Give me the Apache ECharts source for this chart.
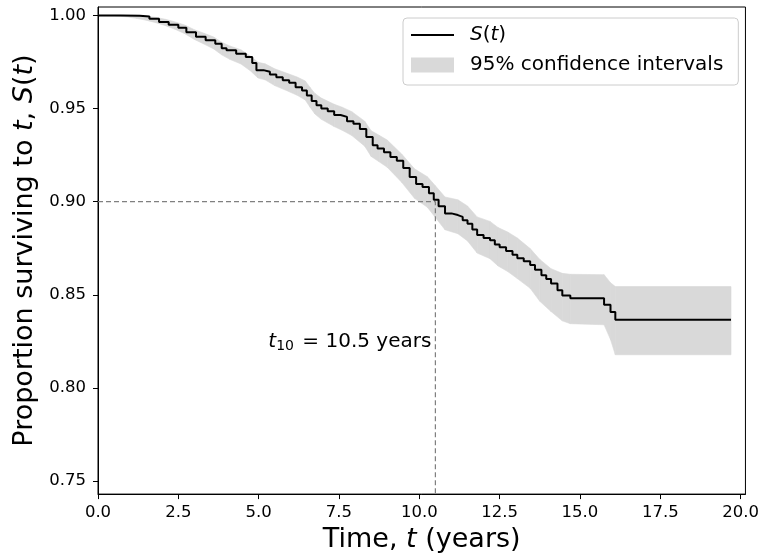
<!DOCTYPE html>
<html>
<head>
<meta charset="utf-8">
<style>
  html, body { margin: 0; padding: 0; background: #fff; }
  #chart { width: 762px; height: 558px; }
</style>
<script src="https://cdn.jsdelivr.net/npm/echarts@6/dist/echarts.min.js"></script>
</head>
<body>
<div id="chart"></div>
<script>
// Kaplan-Meier estimate
const times = [0, 0.7, 1.3, 1.6, 1.9, 2.2, 2.5, 2.75, 3.05, 3.35, 3.65, 3.85, 4.0, 4.3, 4.6, 4.8, 4.93, 5.15, 5.35, 5.55,
  5.75, 5.95, 6.15, 6.35, 6.5, 6.65, 6.8, 6.95, 7.15, 7.35, 7.55, 7.75, 7.95, 8.15, 8.35, 8.55, 8.7, 8.9, 9.1, 9.3,
  9.5, 9.7, 9.9, 10.1, 10.3, 10.45, 10.6, 10.8, 11.0, 11.2, 11.35, 11.5, 11.65, 11.8, 12.0, 12.2, 12.35, 12.5, 12.7, 12.9,
  13.05, 13.25, 13.45, 13.6, 13.8, 13.95, 14.1, 14.3, 14.45, 14.7, 15.75, 15.95, 16.1, 19.7]
const survival = [1.0, 0.9998, 0.9994, 0.9982, 0.9965, 0.995, 0.9933, 0.991, 0.9885, 0.9866, 0.9848, 0.9824, 0.9813, 0.9794, 0.9776, 0.9745, 0.9706, 0.9697, 0.9683, 0.9668,
  0.9652, 0.9638, 0.9614, 0.9597, 0.957, 0.954, 0.9518, 0.95, 0.9486, 0.9465, 0.9455, 0.9432, 0.9418, 0.939, 0.9347, 0.9303, 0.9285, 0.9265, 0.924, 0.922,
  0.918, 0.9132, 0.9095, 0.9078, 0.9045, 0.901, 0.8975, 0.8937, 0.8928, 0.8918, 0.89, 0.8882, 0.885, 0.8821, 0.8805, 0.8793, 0.877, 0.8755, 0.8735, 0.8715,
  0.8696, 0.868, 0.866, 0.8635, 0.8605, 0.8585, 0.856, 0.8525, 0.8496, 0.8482, 0.8446, 0.8407, 0.8366, 0.8366]

// 95% confidence band
const ciTimes = [0, 0.5, 0.9, 1.2, 1.5, 1.8, 2.1, 2.4, 2.7, 3.0, 3.3, 3.6, 3.85, 4.1, 4.45, 4.75, 4.98, 5.2, 5.5, 5.9,
  6.2, 6.45, 6.6, 6.75, 6.95, 7.35, 7.6, 7.9, 8.3, 8.5, 8.75, 9.0, 9.45, 9.85, 10.25, 10.5, 10.8, 11.2, 11.5, 11.8,
  12.2, 12.45, 12.75, 13.05, 13.45, 13.75, 14.1, 14.45, 14.7, 15.75, 15.95, 16.1, 19.7]
const ciLower = [1.0, 0.9997, 0.9992, 0.9984, 0.9974, 0.9961, 0.9945, 0.9925, 0.9902, 0.9871, 0.9846, 0.982, 0.9788, 0.9764, 0.9739, 0.9701, 0.9664, 0.9654, 0.9623, 0.9594,
  0.9571, 0.9546, 0.9507, 0.9471, 0.9442, 0.9403, 0.9383, 0.9355, 0.9298, 0.9243, 0.9214, 0.9185, 0.9104, 0.9018, 0.897, 0.8915, 0.8849, 0.8828, 0.8789, 0.8724,
  0.8694, 0.8655, 0.8625, 0.8587, 0.8535, 0.8465, 0.841, 0.836, 0.8345, 0.8339, 0.826, 0.8178, 0.8178]
const ciUpper = [1.0, 1.0, 1.0, 1.0, 0.9996, 0.9989, 0.9979, 0.9965, 0.9948, 0.9923, 0.9904, 0.9884, 0.9856, 0.9836, 0.9815, 0.9781, 0.9748, 0.974, 0.9713, 0.9688,
  0.9669, 0.9648, 0.9613, 0.9581, 0.9556, 0.9523, 0.9507, 0.9483, 0.9432, 0.9381, 0.9356, 0.9331, 0.9256, 0.9176, 0.9134, 0.9085, 0.9025, 0.901, 0.8977, 0.8918,
  0.8894, 0.8861, 0.8837, 0.8805, 0.8748, 0.869, 0.864, 0.8615, 0.861, 0.8608, 0.8565, 0.8544, 0.8544]

const xTicks = [0, 2.5, 5, 7.5, 10, 12.5, 15, 17.5, 20]
const yTicks = [0.75, 0.8, 0.85, 0.9, 0.95, 1.0]

// time at which 10% have died
const t10 = 10.5
const s10 = 0.9
const noteY = 0.825

const xMin = 0, xMax = 20.15
const yMin = 0.743, yMax = 1.0045

const FONT = 'DejaVu Sans'
const bandColor = '#d9d9d9'

const chart = echarts.init(document.getElementById('chart'))

const bandRows = ciTimes.map((t, i) => [t, ciLower[i], ciUpper[i]])

// one quad per interval between consecutive band points
function renderBand(params, api) {
  const i = params.dataIndex
  if (i >= bandRows.length - 1) return null
  const a = bandRows[i], b = bandRows[i + 1]
  const pts = [
    api.coord([a[0], a[2]]), api.coord([b[0], b[2]]),
    api.coord([b[0], b[1]]), api.coord([a[0], a[1]]),
  ]
  return {
    type: 'polygon',
    shape: { points: pts },
    style: { fill: bandColor, stroke: bandColor, lineWidth: 0.6 },
  }
}

chart.setOption({
  animation: false,
  textStyle: { fontFamily: FONT },
  grid: {
    left: 98, right: 15, top: 7, bottom: 63,
    show: true, borderColor: '#000', borderWidth: 1,
  },
  legend: {
    left: 403, top: 18,
    orient: 'vertical',
    padding: [6, 15, 9, 8],
    itemGap: 8,
    itemWidth: 43,
    itemHeight: 15,
    borderColor: '#cccccc',
    borderWidth: 1,
    borderRadius: 4,
    backgroundColor: 'rgba(255,255,255,0.8)',
    data: [
      { name: 'S(t)', icon: 'path://M0 0H43V2H0Z' },
      { name: '95% confidence intervals', icon: 'rect' },
    ],
    formatter: name => name === 'S(t)' ? '{i|S}(' + '{i|t})' : name,
    textStyle: {
      fontFamily: FONT, fontSize: 20, color: '#000', lineHeight: 22,
      padding: [0, 0, 0, 11],
      rich: { i: { fontFamily: FONT, fontSize: 20, fontStyle: 'italic', color: '#000' } },
    },
  },
  xAxis: {
    type: 'value',
    min: xMin, max: xMax,
    splitLine: { show: false },
    axisLine: { lineStyle: { color: '#000', width: 1 } },
    axisTick: { customValues: xTicks, length: 5, lineStyle: { color: '#000', width: 1 } },
    axisLabel: {
      customValues: xTicks,
      formatter: v => v.toFixed(1),
      fontFamily: FONT, fontSize: 16.5, color: '#000', margin: 10,
    },
    name: 'Time, {i|t} (years)',
    nameLocation: 'middle',
    nameGap: 31,
    nameTextStyle: {
      fontFamily: FONT, fontSize: 27, color: '#000',
      rich: { i: { fontFamily: FONT, fontSize: 27, fontStyle: 'italic', color: '#000' } },
    },
  },
  yAxis: {
    type: 'value',
    min: yMin, max: yMax,
    splitLine: { show: false },
    axisLine: { show: true, lineStyle: { color: '#000', width: 1 } },
    axisTick: { show: true, customValues: yTicks, length: 5, lineStyle: { color: '#000', width: 1 } },
    axisLabel: {
      customValues: yTicks,
      formatter: v => v.toFixed(2),
      fontFamily: FONT, fontSize: 16.5, color: '#000', margin: 12,
    },
    name: 'Proportion surviving to {i|t}, {i|S}(' + '{i|t})',
    nameLocation: 'middle',
    nameGap: 58,
    nameRotate: 90,
    nameTextStyle: {
      fontFamily: FONT, fontSize: 27, color: '#000',
      rich: { i: { fontFamily: FONT, fontSize: 27, fontStyle: 'italic', color: '#000' } },
    },
  },
  series: [
    {
      name: '95% confidence intervals',
      type: 'custom',
      renderItem: renderBand,
      silent: true,
      clip: true,
      itemStyle: { color: bandColor },
      encode: { x: 0, y: [1, 2] },
      data: bandRows,
      z: 1,
    },
    {
      name: 'ref',
      type: 'line',
      symbol: 'none',
      silent: true,
      lineStyle: { color: '#808080', width: 1.2, type: [5, 3] },
      data: [[xMin, s10], [t10, s10], [t10, yMin]],
      z: 2,
    },
    {
      name: 'note',
      type: 'scatter',
      symbolSize: 0,
      silent: true,
      itemStyle: { opacity: 1 },
      data: [[t10, noteY]],
      label: {
        show: true,
        position: 'left',
        distance: 4,
        color: '#000',
        fontFamily: FONT,
        fontSize: 20,
        formatter: '{i|t}{sub|10} = 10.5 years',
        rich: {
          i: { fontFamily: FONT, fontSize: 20, fontStyle: 'italic', color: '#000' },
          sub: { fontFamily: FONT, fontSize: 14, color: '#000', padding: [10, 2, 0, 0] },
        },
      },
      z: 3,
    },
    {
      name: 'S(t)',
      type: 'line',
      step: 'end',
      symbol: 'none',
      color: '#000',
      itemStyle: { color: '#000' },
      lineStyle: { color: '#000', width: 2 },
      data: times.map((t, i) => [t, survival[i]]),
      z: 4,
    },
  ],
})
</script>
</body>
</html>
